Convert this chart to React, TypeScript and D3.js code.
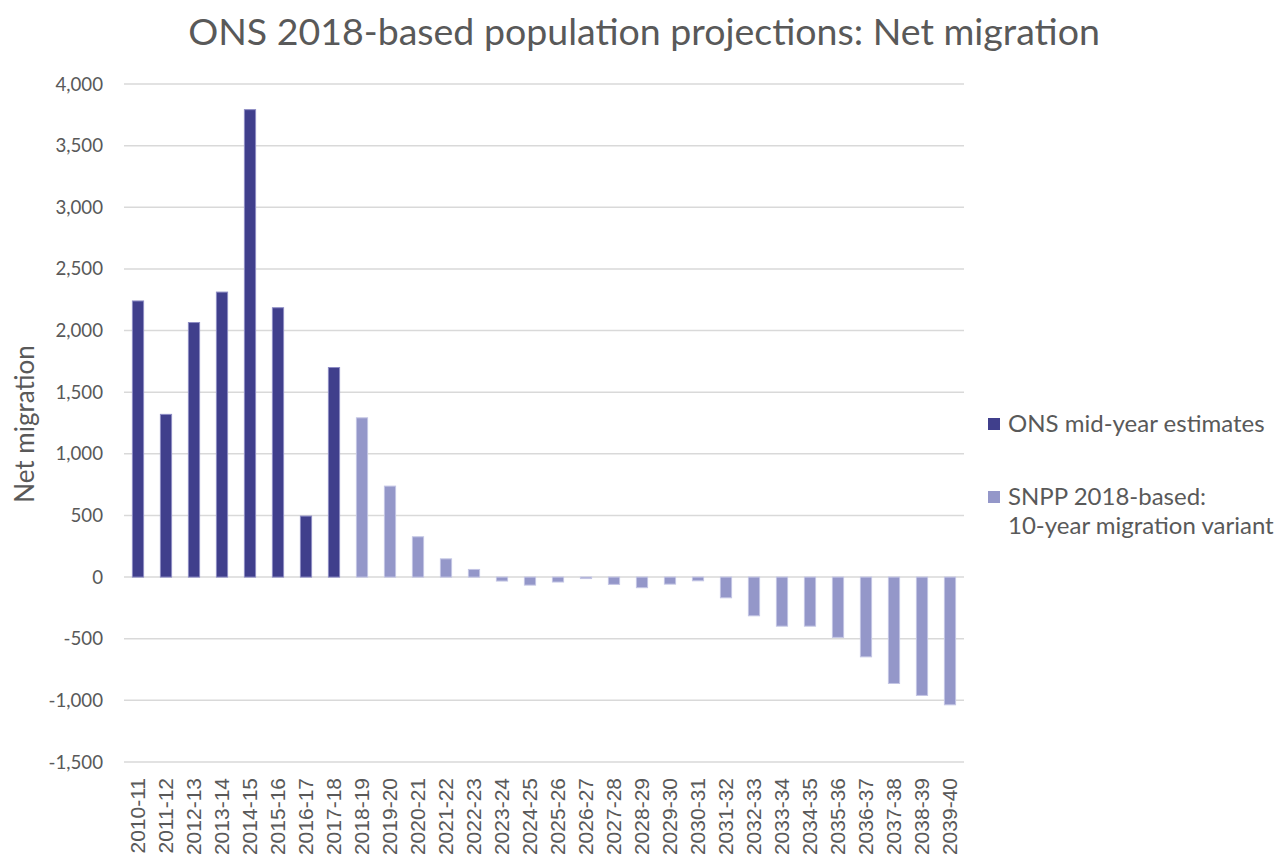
import React, { useEffect, useRef } from 'react'
import * as d3 from 'd3'

const periods = [
  '2010-11', '2011-12', '2012-13', '2013-14', '2014-15', '2015-16', '2016-17', '2017-18',
  '2018-19', '2019-20', '2020-21', '2021-22', '2022-23', '2023-24', '2024-25', '2025-26',
  '2026-27', '2027-28', '2028-29', '2029-30', '2030-31', '2031-32', '2032-33', '2033-34',
  '2034-35', '2035-36', '2036-37', '2037-38', '2038-39', '2039-40',
]

// ONS mid-year estimates (2010-11 .. 2017-18)
const estimates = [2240, 1320, 2065, 2312, 3792, 2185, 495, 1700]

// SNPP 2018-based 10-year migration variant (2018-19 .. 2039-40)
const projections = [
  1292, 738, 327, 148, 62, -32, -65, -40, -12, -59, -86, -57, -30, -168, -314, -398,
  -398, -489, -647, -863, -960, -1036,
]

const yTicks = [-1500, -1000, -500, 0, 500, 1000, 1500, 2000, 2500, 3000, 3500, 4000]

const seriesNames = ['ONS mid-year estimates', 'SNPP 2018-based:|10-year migration variant']
const colors = ['#403F8C', '#9497C9']
const borders = ['#8D8CC4', '#C3C5E4']

export default function App() {
  const svgRef = useRef<SVGSVGElement>(null)

  useEffect(() => {
    if (!svgRef.current) return
    const svg = d3.select(svgRef.current)
    svg.selectAll('*').remove()

    const width = 1288
    const height = 858
    const margin = { top: 84, right: 324, bottom: 96, left: 124 }
    const innerWidth = width - margin.left - margin.right
    const innerHeight = height - margin.top - margin.bottom
    const textColor = '#595959'
    const font = 'Lato, "Open Sans", sans-serif'

    const rows = periods.map((p, i) => ({
      period: p,
      value: i < estimates.length ? estimates[i] : projections[i - estimates.length],
      series: i < estimates.length ? 0 : 1,
    }))

    const x = d3.scaleBand().domain(periods).range([0, innerWidth]).paddingInner(0.6).paddingOuter(0.3)
    const y = d3.scaleLinear().domain([-1500, 4000]).range([innerHeight, 0])

    svg
      .append('text')
      .attr('x', width / 2)
      .attr('y', 45)
      .attr('text-anchor', 'middle')
      .attr('font-family', font)
      .attr('font-size', 37.5)
      .attr('fill', textColor)
      .text('ONS 2018-based population projections: Net migration')

    const g = svg.append('g').attr('transform', `translate(${margin.left},${margin.top})`)

    g.selectAll('.grid')
      .data(yTicks)
      .join('line')
      .attr('class', 'grid')
      .attr('x1', 0)
      .attr('x2', innerWidth)
      .attr('y1', (d) => y(d))
      .attr('y2', (d) => y(d))
      .attr('stroke', '#D9D9D9')
      .attr('stroke-width', 1.5)

    g.selectAll('.ytick')
      .data(yTicks)
      .join('text')
      .attr('class', 'ytick')
      .attr('x', -21)
      .attr('y', (d) => y(d))
      .attr('dy', '0.35em')
      .attr('text-anchor', 'end')
      .attr('font-family', font)
      .attr('font-size', 18.7)
      .attr('fill', textColor)
      .text((d) => d3.format(',')(d).replace('−', '-'))

    g.selectAll('.bar')
      .data(rows)
      .join('rect')
      .attr('class', 'bar')
      .attr('x', (d) => x(d.period) || 0)
      .attr('width', x.bandwidth())
      .attr('y', (d) => y(Math.max(0, d.value)))
      .attr('height', (d) => Math.abs(y(d.value) - y(0)))
      .attr('fill', (d) => colors[d.series])
      .attr('stroke', (d) => borders[d.series])
      .attr('stroke-width', 1)

    g.selectAll('.xtick')
      .data(periods)
      .join('text')
      .attr('class', 'xtick')
      .attr('transform', (d) => `translate(${(x(d) || 0) + x.bandwidth() / 2},${innerHeight + 16}) rotate(-90)`)
      .attr('dy', '0.35em')
      .attr('text-anchor', 'end')
      .attr('font-family', '"Liberation Sans", Arial, sans-serif')
      .attr('font-size', 21)
      .attr('fill', textColor)
      .text((d) => d)

    svg
      .append('text')
      .attr('transform', `translate(34,424) rotate(-90)`)
      .attr('text-anchor', 'middle')
      .attr('font-family', font)
      .attr('font-size', 26)
      .attr('fill', textColor)
      .text('Net migration')

    const legend = svg.append('g').attr('transform', `translate(988, 424)`)
    seriesNames.forEach((name, i) => {
      const lg = legend.append('g').attr('transform', `translate(0,${i * 73})`)
      lg.append('rect')
        .attr('x', 0)
        .attr('y', -6)
        .attr('width', 12)
        .attr('height', 12)
        .attr('fill', colors[i])
      name.split('|').forEach((line, j) => {
        lg.append('text')
          .attr('x', 20)
          .attr('y', j * 29)
          .attr('dy', '0.35em')
          .attr('font-family', font)
          .attr('font-size', 24)
          .attr('fill', textColor)
          .text(line)
      })
    })
  }, [])

  return (
    <svg
      ref={svgRef}
      width={1288}
      height={858}
      style={{ position: 'absolute', left: 0, top: 0, background: '#fff' }}
    />
  )
}
